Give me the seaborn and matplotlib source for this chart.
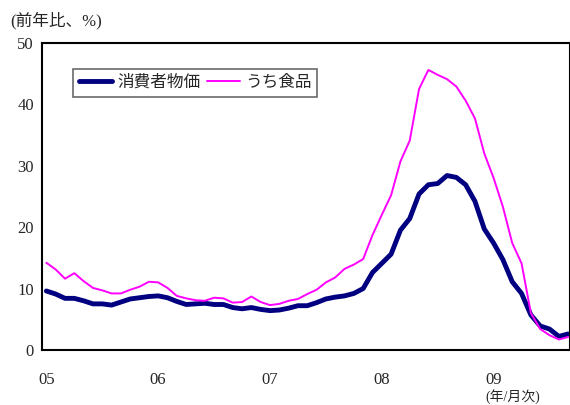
import numpy as np
import pandas as pd
import matplotlib
matplotlib.use("Agg")
import matplotlib.pyplot as plt
import seaborn as sns

# monthly, 2005-01 .. 2009-09
cpi = [9.6, 9.1, 8.4, 8.4, 8.0, 7.5, 7.5, 7.3, 7.8, 8.3, 8.5, 8.7,
       8.8, 8.5, 7.9, 7.4, 7.5, 7.6, 7.4, 7.4, 6.9, 6.7, 6.9, 6.6,
       6.4, 6.5, 6.8, 7.2, 7.2, 7.7, 8.3, 8.6, 8.8, 9.2, 10.0, 12.6,
       14.1, 15.6, 19.5, 21.4, 25.4, 26.9, 27.1, 28.4, 28.1, 26.9, 24.2, 19.7,
       17.4, 14.7, 11.1, 9.2, 5.7, 3.9, 3.4, 2.2, 2.6]
food = [14.2, 13.1, 11.6, 12.5, 11.2, 10.1, 9.7, 9.2, 9.2, 9.8, 10.3, 11.1,
        11.0, 10.1, 8.8, 8.4, 8.1, 8.0, 8.5, 8.4, 7.7, 7.8, 8.7, 7.8,
        7.3, 7.5, 8.0, 8.3, 9.1, 9.8, 11.0, 11.8, 13.2, 13.9, 14.8, 18.7,
        22.0, 25.2, 30.7, 34.1, 42.5, 45.6, 44.8, 44.1, 42.9, 40.6, 37.7, 32.0,
        28.0, 23.3, 17.4, 14.1, 6.0, 3.4, 2.4, 1.7, 2.1]
year_labels = ["05", "06", "07", "08", "09"]
series_names = ["消費者物価", "うち食品"]

months = np.arange(len(cpi))
df = pd.DataFrame({"month": months, "cpi": cpi, "food": food})

sns.set_style("white")
plt.rcParams["font.family"] = ["Liberation Serif", "Noto Sans CJK JP"]

fig = plt.figure(figsize=(5.7, 4.05), dpi=100)
ax = fig.add_axes([0.074, 0.136, 0.926, 0.758])

sns.lineplot(data=df, x="month", y="cpi", color="#000080", linewidth=3.5,
             label=series_names[0], ax=ax)
sns.lineplot(data=df, x="month", y="food", color="#FF00FF", linewidth=1.4,
             label=series_names[1], ax=ax)

ax.set_xlim(-0.45, 56.2)
ax.set_ylim(0, 50)
ax.set_yticks(range(0, 51, 10))
ax.set_xticks(range(0, len(cpi), 12))
ax.set_xticklabels(year_labels)
ax.set_xlabel("")
ax.set_ylabel("")
ax.tick_params(axis="x", length=0, pad=16, labelsize=12)
ax.tick_params(axis="y", length=0, pad=6, labelsize=12)
for s in ax.spines.values():
    s.set_color("black")
    s.set_linewidth(1.5)

leg = ax.legend(loc="upper left", bbox_to_anchor=(0.058, 0.915), ncol=2,
                frameon=True, fancybox=False, fontsize=12,
                handlelength=2.0, columnspacing=0.4, handletextpad=0.3,
                borderpad=0.35, borderaxespad=0)
leg.get_frame().set_edgecolor("#444444")
leg.get_frame().set_linewidth(1.2)

fig.text(0.018, 0.95, "(前年比、%)", fontsize=12, va="center")
fig.text(0.852, 0.02, "(年/月次)", fontsize=10, va="center")

fig.savefig("out.png", dpi=100)
